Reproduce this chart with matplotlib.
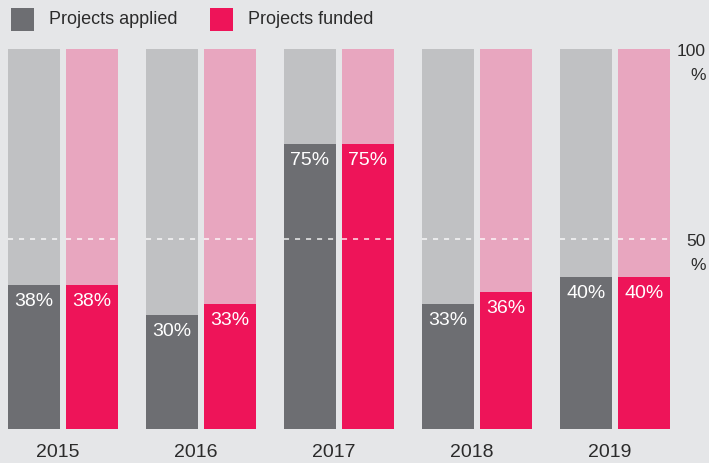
import matplotlib
matplotlib.use("Agg")
import matplotlib.pyplot as plt
from matplotlib.patches import Rectangle

years = ["2015", "2016", "2017", "2018", "2019"]
applied = [38, 30, 75, 33, 40]
funded = [38, 33, 75, 36, 40]
series_names = ["Projects applied", "Projects funded"]
right_ticks = [100, 50]

bg = "#e5e6e8"
gray_bg = "#c0c1c3"
pink_bg = "#e8a6bf"
gray_fg = "#6d6e72"
pink_fg = "#ee1459"
text_col = "#2b2b2b"

plt.rcParams['font.family'] = ['Liberation Sans', 'DejaVu Sans']

W, H = 709, 464
fig = plt.figure(figsize=(W / 100, H / 100), dpi=100, facecolor=bg)
ax = fig.add_axes([0, (H - 430) / H, 1, 380 / H])
ax.set_facecolor(bg)
x0 = -63 / 138
ax.set_xlim(x0, x0 + W / 138)
ax.set_ylim(0, 100)
for s in ax.spines.values():
    s.set_visible(False)
ax.set_yticks([])

bw = 52 / 138
off = 29 / 138
for i, (a, f) in enumerate(zip(applied, funded)):
    for xc, val, cb, cf in [(i - off, a, gray_bg, gray_fg), (i + off, f, pink_bg, pink_fg)]:
        ax.bar(xc, 100, width=bw, color=cb, linewidth=0, zorder=1)
        ax.bar(xc, val, width=bw, color=cf, linewidth=0, zorder=2)
        ax.plot([xc - bw / 2, xc + bw / 2], [50, 50], color="white", alpha=0.75,
                lw=1.3, linestyle=(0, (2.8, 3.3)), zorder=3,
                dash_capstyle="butt")
        ax.text(xc, val - 4.1, f"{val}%", ha="center", va="center", color="white",
                fontsize=14, zorder=4)

ax.set_xticks([i - 5 / 138 for i in range(len(years))])
ax.set_xticklabels(years, fontsize=14, color=text_col)
ax.tick_params(axis="x", length=0, pad=10)

ypix = {100: 51, 50: 242}
for t in right_ticks:
    y = ypix[t]
    fig.text(706 / W, (H - y) / H, f"{t}", ha="right", va="center",
             fontsize=12.5, color=text_col)
    fig.text(706 / W, (H - y - 24) / H, "%", ha="right", va="center",
             fontsize=12.5, color=text_col)

# legend
leg_items = [(11, series_names[0], gray_fg), (210, series_names[1], pink_fg)]
for xp, name, col in leg_items:
    fig.patches.append(Rectangle((xp / W, (H - 32) / H), 23 / W, 23 / H,
                                 transform=fig.transFigure, color=col, linewidth=0))
    fig.text((xp + 38) / W, (H - 20) / H, name, ha="left", va="center",
             fontsize=13, color=text_col)

fig.savefig("out.png", dpi=100, facecolor=bg)
